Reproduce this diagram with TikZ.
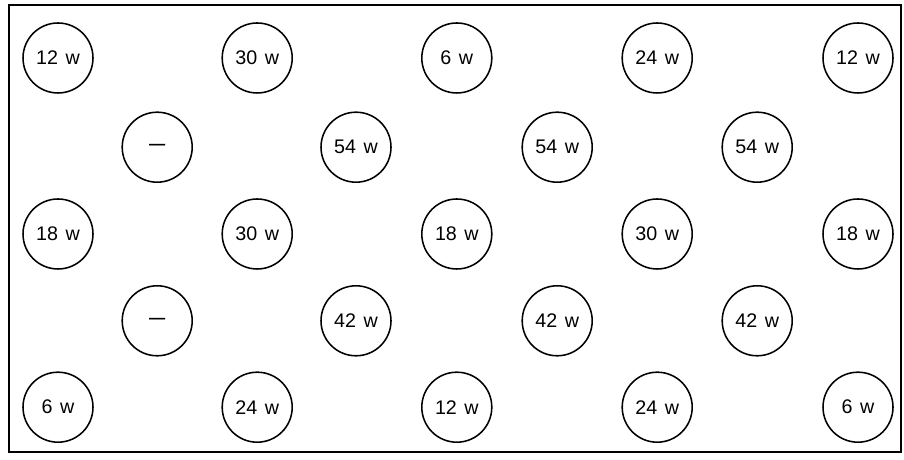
\documentclass[tikz,border=0pt]{standalone}
\usepackage{fontspec}
\setmainfont{Liberation Sans}
\usetikzlibrary{positioning}
\newcommand{\gap}{\hspace{0.38em}}

\begin{document}
\begin{tikzpicture}[
  lamp/.style={draw, circle, line width=1.1pt, minimum size=1.75cm,
    inner sep=0pt, font=\fontsize{14}{16}\selectfont},
  none/.style={font=\fontsize{11.5}{14}\selectfont\bfseries},
  frame/.style={draw, line width=1.5pt}]
\useasboundingbox (0,0) rectangle (22.6,11.5);
\node[frame, minimum width=22.3cm, minimum height=11.17cm, anchor=south west]
  (room) at (0.2,0.18) {};
% row 1
\node[lamp] (a1) at (1.45,10.05) {12\gap w};
\node[lamp] (a2) at (6.43,10.05) {30\gap w};
\node[lamp] (a3) at (11.42,10.05) {6\gap w};
\node[lamp] (a4) at (16.43,10.05) {24\gap w};
\node[lamp] (a5) at (21.45,10.05) {12\gap w};
% row 2
\node[lamp, none] (b1) at (3.93,7.82) {---};
\node[lamp] (b2) at (8.9,7.82) {54\gap w};
\node[lamp] (b3) at (13.93,7.82) {54\gap w};
\node[lamp] (b4) at (18.93,7.82) {54\gap w};
% row 3
\node[lamp] (c1) at (1.45,5.65) {18\gap w};
\node[lamp] (c2) at (6.43,5.65) {30\gap w};
\node[lamp] (c3) at (11.42,5.65) {18\gap w};
\node[lamp] (c4) at (16.43,5.65) {30\gap w};
\node[lamp] (c5) at (21.45,5.65) {18\gap w};
% row 4
\node[lamp, none] (d1) at (3.93,3.48) {---};
\node[lamp] (d2) at (8.9,3.48) {42\gap w};
\node[lamp] (d3) at (13.93,3.48) {42\gap w};
\node[lamp] (d4) at (18.93,3.48) {42\gap w};
% row 5
\node[lamp] (e1) at (1.45,1.32) {6\gap w};
\node[lamp] (e2) at (6.43,1.32) {24\gap w};
\node[lamp] (e3) at (11.42,1.32) {12\gap w};
\node[lamp] (e4) at (16.43,1.32) {24\gap w};
\node[lamp] (e5) at (21.45,1.32) {6\gap w};
\end{tikzpicture}
\end{document}
